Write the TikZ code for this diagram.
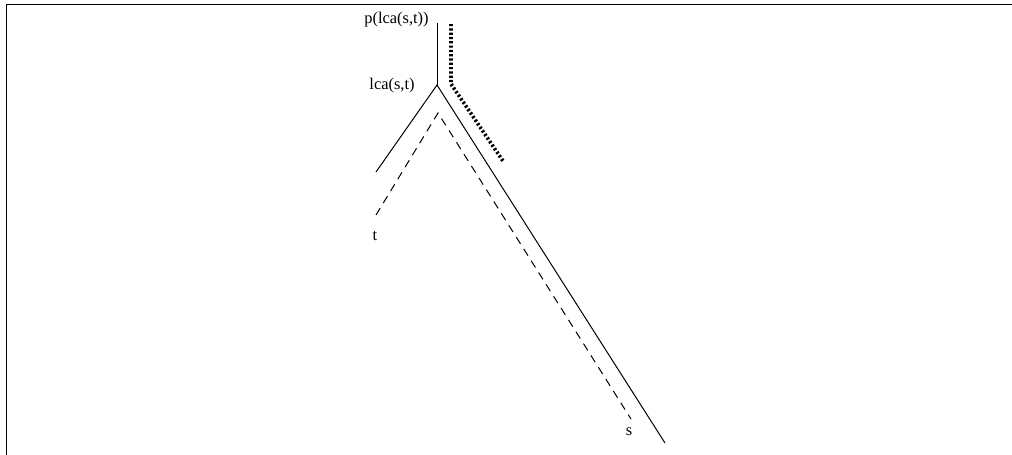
\documentclass[tikz,border=0pt]{standalone}
\usepackage{fontspec}
\setmainfont{Liberation Serif}
\begin{document}
\begin{tikzpicture}[x=0.5pt,y=-0.5pt,
  lbl/.style={inner sep=0pt,font=\fontsize{8.2pt}{10pt}\selectfont},
  edge/.style={line width=0.5pt},
  dashedpath/.style={line width=0.5pt,dash pattern=on 4pt off 3pt},
  dottedpath/.style={line width=1.8pt,dash pattern=on 1.1pt off 1.05pt},
  frame/.style={line width=0.8pt}]
\useasboundingbox (0,0) rectangle (1012,455);
% frame (top and left edges)
\coordinate (fbl) at (6.5,455);
\coordinate (ftl) at (6.5,4.5);
\coordinate (ftr) at (1012,4.5);
\draw[frame] (fbl) -- (ftl) -- (ftr);
% tree
\coordinate (top) at (437,23);
\coordinate (lca) at (437,85);
\coordinate (lend) at (376,172);
\coordinate (rend) at (665,443);
\draw[edge] (top) -- (lca);
\draw[edge] (lend) -- (lca) -- (rend);
% dashed path s-t
\coordinate (dapex) at (438,113);
\coordinate (dt) at (376,215);
\coordinate (ds) at (631,419);
\draw[dashedpath] (dt) -- (dapex) -- (ds);
% dotted path
\coordinate (dtop) at (451,24);
\coordinate (dbend) at (451,84);
\coordinate (dend) at (503,161);
\draw[dottedpath] (dtop) -- (dbend) -- (dend);
% labels
\node[lbl] (plabel) at (396.5,20) {p(lca(s,t))};
\node[lbl] (lcalabel) at (392,86) {lca(s,t)};
\node[lbl] (tlabel) at (375,236) {t};
\node[lbl] (slabel) at (629,432) {s};
\end{tikzpicture}
\end{document}
